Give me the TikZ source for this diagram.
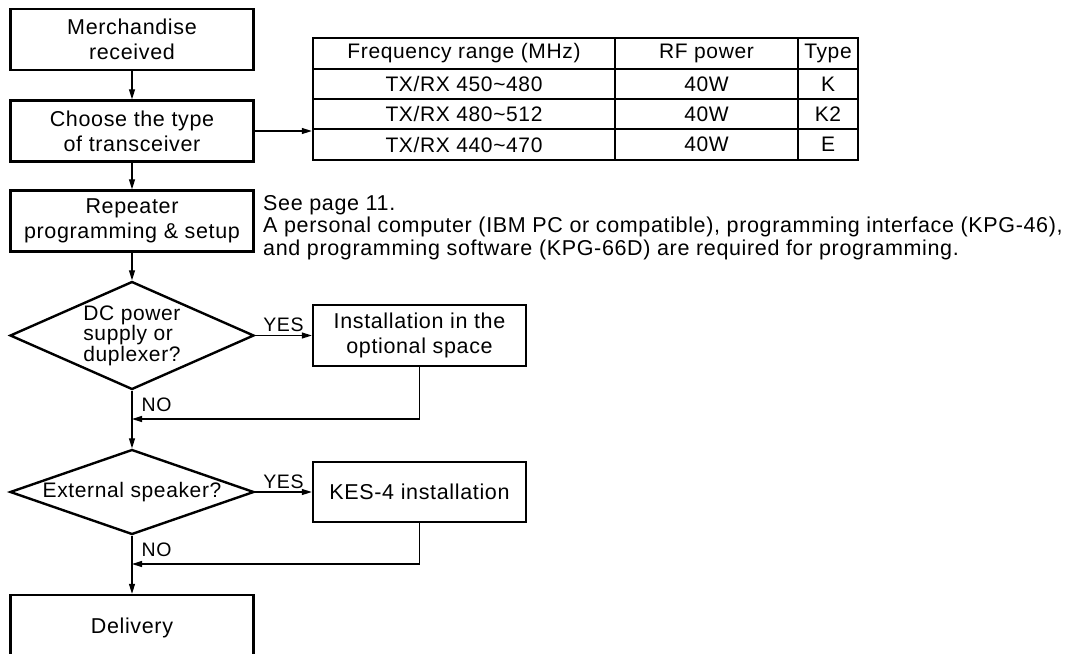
\documentclass[tikz,border=0pt]{standalone}
\usepackage{fontspec}
\setmainfont{Liberation Sans}[LetterSpace=3]
\usetikzlibrary{shapes.geometric,arrows.meta}

\tikzset{
  stepbox/.style={draw, line width=2.4pt, minimum width=243pt, minimum height=61pt,
    inner sep=0pt, align=center, font=\fontsize{21.5}{25}\selectfont},
  sidebox/.style={stepbox, minimum width=213pt},
  query/.style={draw, diamond, line width=2.4pt, minimum width=244pt, inner sep=0pt,
    align=left, font=\fontsize{21}{18}\selectfont},
  flow/.style={line width=1.3pt, -{Triangle[length=10pt,width=6pt]}},
  answer/.style={inner sep=3pt, font=\fontsize{19.5}{20}\selectfont},
  cell/.style={inner sep=0pt, font=\fontsize{21}{22}\selectfont},
}

\begin{document}
\begin{tikzpicture}[x=1pt,y=-1pt]
  \useasboundingbox (0,0) rectangle (1065,653);
  \clip (0,0) rectangle (1065,653);

  % main column
  \node[stepbox] (merch) at (132,39.5) {Merchandise\\received};
  \node[stepbox] (choose) at (132,131) {Choose the type\\of transceiver};
  \node[stepbox] (repeat) at (132,221) {Repeater\\programming \& setup};
  \node[query, minimum height=108pt, shape aspect=2.26] (dc) at (132,335.5) {DC power\\supply or\\duplexer?};
  \node[query, minimum height=85pt, shape aspect=2.87] (spk) at (132,492) {External speaker?};
  \node[stepbox, minimum height=66pt] (deliv) at (132,628) {Delivery};

  % side boxes
  \node[sidebox] (install) at (419.5,335.5) {Installation in the\\optional space};
  \node[sidebox, minimum height=60pt] (kes) at (419.5,492) {KES-4 installation};

  % table of types
  \node[draw, line width=2.4pt, minimum width=545pt, minimum height=122pt, inner sep=0pt] (tbl) at (585.5,99) {};
  \draw[line width=1.3pt] (313,69) -- (858,69) (313,99) -- (858,99) (313,129) -- (858,129);
  \draw[line width=1.3pt] (615,38) -- (615,160) (798,38) -- (798,160);
  \node[cell] (head1) at (464,53.5) {Frequency range (MHz)};
  \node[cell] (head2) at (706.5,53.5) {RF power};
  \node[cell] (head3) at (828,53.5) {Type};
  \node[cell] (freq1) at (464,84) {TX/RX 450\textasciitilde480};
  \node[cell] (pow1) at (706.5,84) {40W};
  \node[cell] (type1) at (828,84) {K};
  \node[cell] (freq2) at (464,114) {TX/RX 480\textasciitilde512};
  \node[cell] (pow2) at (706.5,114) {40W};
  \node[cell] (type2) at (828,114) {K2};
  \node[cell] (freq3) at (464,144.5) {TX/RX 440\textasciitilde470};
  \node[cell] (pow3) at (706.5,144.5) {40W};
  \node[cell] (type3) at (828,144.5) {E};

  % programming note
  \node[anchor=north west, align=left, inner sep=0pt, font=\fontsize{21.5}{22.7}\selectfont] (note) at (263,195)
    {See page 11.\\A personal computer (IBM PC or compatible), programming interface (KPG-46),\\and programming software (KPG-66D) are required for programming.};

  % connectors
  \coordinate (join1) at (132,419);
  \coordinate (join2) at (132,564);
  \draw[flow] (merch) -- (choose);
  \draw[flow] (choose) -- (repeat);
  \draw[flow] (choose.east) -- (choose.east -| tbl.west);
  \draw[flow] (repeat) -- (dc);
  \draw[flow] (dc) -- node[answer, above] (yes1) {YES} (install);
  \draw[flow] (dc) -- node[answer, right, pos=0.24, xshift=6pt] (no1) {NO} (spk);
  \draw[flow] (install) |- (join1);
  \draw[flow] (spk) -- node[answer, above] (yes2) {YES} (kes);
  \draw[flow] (spk) -- node[answer, right, pos=0.25, xshift=6pt] (no2) {NO} (deliv);
  \draw[flow] (kes) |- (join2);
\end{tikzpicture}
\end{document}
